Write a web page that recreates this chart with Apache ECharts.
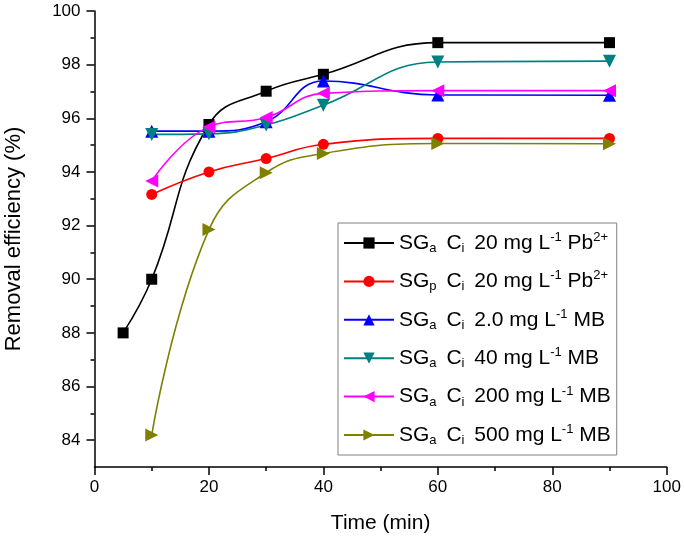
<!DOCTYPE html>
<html>
<head>
<meta charset="utf-8">
<script src="https://cdn.jsdelivr.net/npm/echarts@6/dist/echarts.min.js"></script>
<style>html,body{margin:0;padding:0;background:#fff}#c{width:685px;height:538px}</style>
</head>
<body>
<div id="c"></div>
<script>
// ---- data ----
var timeBlack = [5, 10, 20, 30, 40, 60, 90];
var timeOther = [10, 20, 30, 40, 60, 90];
var pbSGa20 = [88.0, 90.0, 95.77, 97.01, 97.64, 98.82, 98.82];
var pbSGp20 = [93.16, 94.0, 94.5, 95.03, 95.25, 95.25];
var mb2 = [95.52, 95.52, 95.87, 97.39, 96.87, 96.86];
var mb40 = [95.40, 95.42, 95.75, 96.49, 98.1, 98.13];
var mb200 = [93.66, 95.68, 96.03, 96.93, 97.03, 97.03];
var mb500 = [84.19, 91.85, 93.97, 94.69, 95.06, 95.05];
var xTicks = [0, 20, 40, 60, 80, 100];
var yMajor = [84, 86, 88, 90, 92, 94, 96, 98, 100];
var yMinor = [85, 87, 89, 91, 93, 95, 97, 99];
var seriesNames = [
  'SG{s|a} C{s|i} 20 mg L{u|-1} Pb{u|2+}',
  'SG{s|p} C{s|i} 20 mg L{u|-1} Pb{u|2+}',
  'SG{s|a} C{s|i} 2.0 mg L{u|-1} MB',
  'SG{s|a} C{s|i} 40 mg L{u|-1} MB',
  'SG{s|a} C{s|i} 200 mg L{u|-1} MB',
  'SG{s|a} C{s|i} 500 mg L{u|-1} MB'
];

function pairs(xs, ys) { return xs.map(function (x, i) { return [x, ys[i]]; }); }

var FONT = '"Liberation Sans", Arial, sans-serif';
function mk(name, xs, ys, color, symbol, size, rot) {
  return {
    name: name, type: 'line', data: pairs(xs, ys), smooth: 0.45,
    symbol: symbol, symbolSize: size, symbolRotate: rot || 0,
    showAllSymbol: true,
    lineStyle: { color: color, width: 1.6 },
    itemStyle: { color: color },
    emphasis: { disabled: true }, animation: false, z: 2
  };
}

var chart = echarts.init(document.getElementById('c'));
chart.setOption({
  backgroundColor: '#fff',
  animation: false,
  grid: { left: 94.5, right: 18.3, top: 11, bottom: 71, containLabel: false, outerBoundsMode: 'none' },
  xAxis: {
    type: 'value', min: 0, max: 100, interval: 20,
    name: 'Time (min)', nameLocation: 'middle', nameGap: 46,
    nameTextStyle: { fontFamily: FONT, fontSize: 21, color: '#000' },
    axisLine: { lineStyle: { color: '#000', width: 1.5 } },
    axisTick: { show: true, length: 8, lineStyle: { color: '#000', width: 1.5 } },
    minorTick: { show: true, splitNumber: 2, length: 4, lineStyle: { color: '#000', width: 1.5 } },
    axisLabel: { fontFamily: FONT, fontSize: 17, color: '#000', margin: 12, customValues: xTicks },
    splitLine: { show: false }
  },
  yAxis: [{
    type: 'value', min: 83, max: 100,
    name: 'Removal efficiency (%)', nameLocation: 'middle', nameGap: 70,
    nameTextStyle: { fontFamily: FONT, fontSize: 22, color: '#000' },
    axisLine: { show: true, lineStyle: { color: '#000', width: 1.5 } },
    axisTick: { show: true, length: 8, customValues: yMajor, lineStyle: { color: '#000', width: 1.5 } },
    axisLabel: { fontFamily: FONT, fontSize: 17, color: '#000', margin: 14, customValues: yMajor },
    splitLine: { show: false }
  }, {
    type: 'value', min: 83, max: 100, position: 'left',
    axisLine: { show: false },
    axisTick: { show: true, length: 4, customValues: yMinor, lineStyle: { color: '#000', width: 1.5 } },
    axisLabel: { show: false },
    splitLine: { show: false }
  }],
  legend: {
    orient: 'vertical', left: 338, top: 223,
    padding: [8, 6, 8, 5], itemGap: 14.4,
    itemWidth: 50, itemHeight: 14,
    backgroundColor: '#fff', borderColor: '#808080', borderWidth: 1, borderRadius: 0,
    textStyle: {
      fontFamily: FONT, fontSize: 21, color: '#000', lineHeight: 24,
      rich: {
        s: { fontFamily: FONT, fontSize: 13, color: '#000', verticalAlign: 'bottom', lineHeight: 13, padding: [0, 4, 0, 0] },
        u: { fontFamily: FONT, fontSize: 13, color: '#000', verticalAlign: 'top', lineHeight: 13 }
      }
    },
    data: seriesNames
  },
  series: [
    mk(seriesNames[0], timeBlack, pbSGa20, '#000000', 'rect', 11),
    mk(seriesNames[1], timeOther, pbSGp20, '#ff0000', 'circle', 11),
    mk(seriesNames[2], timeOther, mb2, '#0000ff', 'triangle', 13),
    mk(seriesNames[3], timeOther, mb40, '#008080', 'triangle', 13, 180),
    mk(seriesNames[4], timeOther, mb200, '#ff00ff', 'triangle', 13, 90),
    mk(seriesNames[5], timeOther, mb500, '#808000', 'triangle', 13, -90)
  ]
});
</script>
</body>
</html>
